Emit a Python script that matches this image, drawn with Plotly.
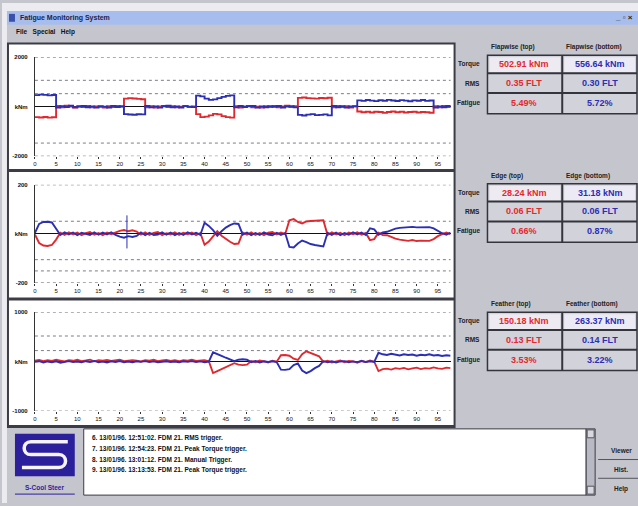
import plotly.graph_objects as go

W, H = 638, 506
FONT = "Liberation Sans, Arial, sans-serif"
RED = "#e2282f"
BLUE = "#2a2fb5"
WIN_GRAY = "#c5c5cd"

# ---------------- data ----------------
t = list(range(99))
x_ticks = list(range(0, 96, 5))

flap_top = [-420, -435, -415, -440, -425,
            30, -20, 40, 10, -30, 20, -10, 35, -25, 15, 0, -35, 25, -15, 30, -5,
            330, 350, 335, 320, 305,
            -20, 25, -30, 10, 35, -15, 20, -25, 5, 30, -10, 15,
            -300, -420, -400, -350, -290, -310, -380, -420, -440,
            20, -30, 15, 35, -20, 5, -35, 25, -10, 30, -25, 10, 40, -15, 20,
            360, 375, 350, 340, 330, 355, 345, 365,
            -25, 30, -10, 20, -30, 15,
            -190, -220, -205, -230, -200, -215, -240, -210, -195, -225, -205, -235,
            -215, -200, -230, -210, -220, -240,
            20, -25, 35, -10, 15]
flap_bottom = [470, 490, 480, 460, 475,
               -30, 25, -15, 40, -25, 10, 30, -20, 15, -35, 20, 5, -30, 35, -10, 25,
               -300, -315, -325, -305, -310,
               30, -25, 15, -35, 20, 40, -20, 10, -30, 25, 5, -15,
               450, 420, 330, 280, 300, 350, 400, 440, 460,
               -25, 35, -10, 20, 30, -35, 15, -20, 25, 0, 35, -30, 10, 20, -25,
               -330, -355, -320, -300, -340, -330, -310, -350,
               30, -20, 25, -35, 10, 20,
               260, 240, 275, 250, 230, 265, 245, 280, 255, 235, 270, 250,
               225, 260, 245, 275, 240, 255,
               -30, 15, -20, 30, -10]

edge_top = [-3,
            -38, -48, -50, -46, -24,
            4, -5, 6, -3, 5, -6, 2, 7, -4, 3, -6, 5, -2, 6,
            12, 15, 10, 14, 9,
            -4, 6, -5, 3, 7, -6, 2, -3, 6, -5, 4, -2, 5, -6, 3,
            -45, -32, -12, 10, -8, -22, -33, -42, -40,
            5, -4, 6, -5, 3, -6, 4, 7, -3, 5, -2,
            55, 60, 48, 42, 50, 52, 54, 53, 55,
            -5, 6, -3, 4, -6, 5, -2, 6, -4, 3,
            -26, -22,
            4, -5,
            -6, -14, -20, -24, -27, -29, -26, -30, -28, -27, -29, -22, -10, -2,
            5, -3]
edge_bottom = [3,
               40, 48, 49, 46, 22,
               -5, 6, -3, 5, -6, 4, -2, -5, 6, -4, 5, -3, 6, -5,
               -12, -16, -10, -13, -9,
               5, -6, 4, -5, -3, 6, -4, 5, -6, 3, -5, 6, -3, 4, -5,
               45, 32, 15, -8, 10, 25, 35, 42, 40,
               -4, 5, -6, 3, -5, 6, -3, -6, 4, -5, 3,
               -54, -56, -40, -28, -34, -42, -46, -50, -52,
               4, -5, 5, -6, 3, -4, 6, -3, 5, -5,
               22, 18,
               -4, 5,
               8, 15, 21, 24, 26, 25, 28, 26, 27, 25, 27, 22, 11, 2,
               -4, 5]
edge_spike_t = [21.7, 21.7]
edge_spike_v = [75, -60]

feather_top = [20, 35, 10, 28, 15, 40, 22, 5, 30, 18, 38, 12, 25, 42, 8, 30, 20, 35, 15, 28,
               40, 10, 25, 32, 18, 5, 30, 22, 38, 12, 26, 35, 15, 28, 8, 32, 20, 40, 14, 25,
               30, 10,
               -230, -190, -150, -110, -70, -30, -60, -70, -60,
               15, -10, 25, 5, -15, 20, 0,
               130, 135, 120, 60, 35, 150, 210, 175, 140, 110,
               -5, 20, -15, 10, 25, -10, 15, 5, -20, 18, -8, 22, 0,
               -190, -150, -140, -160, -130, -145, -125, -155, -135, -120, -150, -130,
               -140, -115, -135, -145, -120, -130]
feather_bottom = [-5, 10, -15, 5, -10, 8, -20, 0, 12, -8, 5, -12, 10, -5, 15, -10, 2, -15, 8, -6,
                  12, -10, 4, -14, 9, -3, 11, -9, 6, -12, 3, 10, -7, 5, -11, 8, -4, 12, -8, 6,
                  -10, 3,
                  190, 160, 120, 80, 45, 10, 40, 50, 40,
                  -10, 12, -15, 8, -5, 10, -8,
                  -160, -165, -150, -70, -35, -180, -230, -190, -130, -85,
                  10, -12, 8, -15, 5, 12, -10, 6, -8, 14, -5, 9, -3,
                  180, 150, 135, 160, 140, 125, 150, 135, 145, 120, 140, 130,
                  150, 125, 135, 115, 130, 120]

flap_range, flap_levels = [-2000, 2000], [2000, 1070, 530, -1470, -2000]
edge_range, edge_levels = [-200, 200], [200, 51, -106, -152, -200]
feather_range, feather_levels = [-1000, 1000], [1000, 520, 225, -1000]

table_headers = [("Flapwise (top)", "Flapwise (bottom)"),
                 ("Edge (top)", "Edge (bottom)"),
                 ("Feather (top)", "Feather (bottom)")]
row_labels = ["Torque", "RMS", "Fatigue"]
top_values = [["502.91 kNm", "0.35 FLT", "5.49%"],
              ["28.24 kNm", "0.06 FLT", "0.66%"],
              ["150.18 kNm", "0.13 FLT", "3.53%"]]
bottom_values = [["556.64 kNm", "0.30 FLT", "5.72%"],
                 ["31.18 kNm", "0.06 FLT", "0.87%"],
                 ["263.37 kNm", "0.14 FLT", "3.22%"]]

log_lines = ["6. 13/01/96. 12:51:02. FDM 21. RMS trigger.",
             "7. 13/01/96. 12:54:23. FDM 21. Peak Torque trigger.",
             "8. 13/01/96. 13:01:12. FDM 21. Manual Trigger.",
             "9. 13/01/96. 13:13:53. FDM 21. Peak Torque trigger."]
menu_items = "File   Special   Help"
buttons = ["Viewer", "Hist.", "Help"]
window_title = "Fatigue Monitoring System"
logo_caption = "S-Cool Steer"


# ---------------- helpers (pixel -> paper) ----------------
def fx(x):
    return x / W


def fy(y):
    return 1 - y / H


shapes = []
annotations = []


def rect(x0, y0, x1, y1, fill, line=None, lw=0, layer="below"):
    shapes.append(dict(type="rect", xref="paper", yref="paper",
                       x0=fx(x0), x1=fx(x1), y0=fy(y1), y1=fy(y0),
                       fillcolor=fill, layer=layer,
                       line=dict(color=line or fill, width=lw)))


def hline(x0, x1, y, color, lw=1, layer="below"):
    shapes.append(dict(type="line", xref="paper", yref="paper",
                       x0=fx(x0), x1=fx(x1), y0=fy(y), y1=fy(y), layer=layer,
                       line=dict(color=color, width=lw)))


def vline(x, y0, y1, color, lw=1, layer="below"):
    shapes.append(dict(type="line", xref="paper", yref="paper",
                       x0=fx(x), x1=fx(x), y0=fy(y0), y1=fy(y1), layer=layer,
                       line=dict(color=color, width=lw)))


def label(x, y, s, size=7, color="#111", anchor="center", bold=True):
    annotations.append(dict(xref="paper", yref="paper", x=fx(x), y=fy(y),
                            text=f"<b>{s}</b>" if bold else s, showarrow=False,
                            xanchor=anchor, yanchor="middle",
                            font=dict(family=FONT, size=size, color=color)))


# ---------------- window chrome ----------------
rect(0, 0, 5, H, "#ececf0")
rect(0, 0, W, 8, "#ececf0")
rect(5, 8, W, 22, "#a7bdee")
rect(7, 11, 13, 19, "#3b4fa8")
label(16, 15, window_title, size=7, color="#1c1f4a", anchor="left")
label(624, 15, "_ ▫ ×", size=8, color="#222")
label(12, 29, menu_items, size=6.5, color="#111", anchor="left")

# chart frame and white panels
rect(5, 40, 455, 430, "#3c3c46")
panel_boxes = [(42, 168), (171, 298), (301, 427)]
for y0, y1 in panel_boxes:
    rect(7, y0, 453, y1, "#ffffff")

# ---------------- plots ----------------
plot_rows = [(55, 155), (184, 283), (313, 413)]
series = [
    (flap_top, flap_bottom, flap_range, flap_levels, "hv"),
    (edge_top, edge_bottom, edge_range, edge_levels, "linear"),
    (feather_top, feather_bottom, feather_range, feather_levels, "linear"),
]

fig = go.Figure()
layout_axes = {}
for k, ((top_px, bot_px), (red, blue, rng, levels, lshape)) in enumerate(zip(plot_rows, series), start=1):
    sx = "" if k == 1 else str(k)
    xa, ya = f"x{sx}", f"y{sx}"
    fig.add_trace(go.Scatter(x=t, y=red, mode="lines", xaxis=xa, yaxis=ya,
                             line=dict(color=RED, width=1.9, shape=lshape),
                             hoverinfo="skip", showlegend=False))
    fig.add_trace(go.Scatter(x=t, y=blue, mode="lines", xaxis=xa, yaxis=ya,
                             line=dict(color=BLUE, width=1.9, shape=lshape),
                             hoverinfo="skip", showlegend=False))
    for v in levels:
        shapes.append(dict(type="line", xref=f"{xa} domain", yref=ya,
                           x0=0, x1=1, y0=v, y1=v, layer="below",
                           line=dict(color="#7c7c8c", width=1, dash="dot")))
    layout_axes[f"xaxis{sx}"] = dict(
        domain=[fx(33), fx(450)], range=[0, 98], anchor=ya,
        tickvals=x_ticks, ticktext=[str(v) for v in x_ticks],
        tickfont=dict(family=FONT, size=6, color="#111"),
        ticks="outside", ticklen=2, tickcolor="#333",
        showgrid=False, zeroline=False, showline=False, fixedrange=True)
    layout_axes[f"yaxis{sx}"] = dict(
        domain=[fy(bot_px), fy(top_px)], range=rng, anchor=xa,
        tickvals=[rng[0], 0, rng[1]],
        ticktext=[f"<b>{rng[0]}</b>", "<b>kNm</b>", f"<b>{rng[1]}</b>"],
        tickfont=dict(family=FONT, size=6, color="#111"),
        ticks="", ticklabelstandoff=5,
        showgrid=False, showline=True, linecolor="#333", linewidth=1,
        zeroline=True, zerolinecolor="#111", zerolinewidth=1.4, fixedrange=True)

fig.add_trace(go.Scatter(x=edge_spike_t, y=edge_spike_v, mode="lines", xaxis="x2", yaxis="y2",
                         line=dict(color=BLUE, width=1), hoverinfo="skip", showlegend=False))

# ---------------- result tables ----------------
for g, base in enumerate([30, 160, 290]):
    h_left, h_right = table_headers[g]
    label(489, base + 15, h_left, size=6.5, color="#222", anchor="left")
    label(564, base + 15, h_right, size=6.5, color="#222", anchor="left")
    rect(487, base + 23, 637, base + 82, "#d2d2da", line="#34343c", lw=1.5)
    rect(489, base + 25, 560, base + 40, "#eeeaf2")
    rect(564, base + 25, 635, base + 40, "#eceaf4")
    hline(487, 637, base + 41, "#34343c", lw=2)
    hline(487, 637, base + 61, "#34343c", lw=2)
    vline(562, base + 23, base + 82, "#34343c", lw=2)
    for r, ry in enumerate([base + 32, base + 51, base + 71]):
        label(482, ry, row_labels[r], size=6.5, color="#222", anchor="right")
        label(524, ry, top_values[g][r], size=9, color=RED)
        label(600, ry, bottom_values[g][r], size=9, color=BLUE)

# ---------------- event log area ----------------
rect(82, 431, 586, 498, "#ffffff", line="#3c3c46", lw=1)
rect(586, 431, 595, 498, "#b9b9c3", line="#3c3c46", lw=1)
rect(587, 432, 594, 440, "#d8d8de", line="#55555f", lw=1)
rect(587, 489, 594, 497, "#d8d8de", line="#55555f", lw=1)
for i, line_txt in enumerate(log_lines):
    label(88, 440 + 11 * i, line_txt, size=6.5, color="#111", anchor="left")

# buttons
for i, (b, by) in enumerate(zip(buttons, [453, 472, 492])):
    label(621, by, b, size=6.5, color="#222")
hline(598, 638, 462, "#55555f", lw=1)
hline(598, 638, 481, "#55555f", lw=1)

# logo
rect(13, 436, 73, 479, "#2b1f9c")
logo_pts = [(66, 444), (29, 444), (20, 444), (20, 457), (29, 457), (57, 457),
            (66, 457), (66, 470), (57, 470), (20, 470)]
P = [f"{fx(x):.5f},{fy(y):.5f}" for x, y in logo_pts]
logo_path = (f"M {P[0]} L {P[1]} C {P[2]} {P[3]} {P[4]} L {P[5]} "
             f"C {P[6]} {P[7]} {P[8]} L {P[9]}")
shapes.append(dict(type="path", xref="paper", yref="paper", path=logo_path,
                   layer="below", line=dict(color="#f4f4fa", width=3.5)))
label(43, 490, logo_caption, size=6.5, color="#2b1f9c")
hline(13, 73, 497, "#2b1f9c", lw=1)

fig.update_layout(
    width=W, height=H, margin=dict(l=0, r=0, t=0, b=0),
    paper_bgcolor=WIN_GRAY, plot_bgcolor="rgba(0,0,0,0)",
    showlegend=False, shapes=shapes, annotations=annotations,
    **layout_axes)

fig.write_html("out.html")
